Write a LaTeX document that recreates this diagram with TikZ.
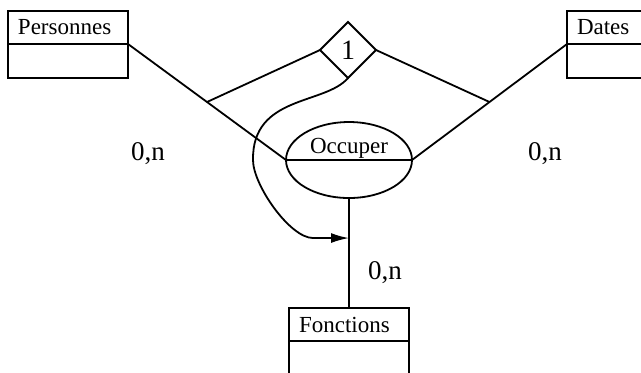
\documentclass[tikz,border=0pt]{standalone}
\usepackage{fontspec}
\setmainfont{Liberation Serif}
\usepackage{tikz}
\usetikzlibrary{shapes.geometric, arrows.meta, positioning}
\tikzset{
	enttop/.style ={rectangle, draw=black, line width=0.9pt, minimum width=60pt, minimum height=16.5pt, inner xsep=5pt, inner ysep=0pt, outer sep=0pt, text width=50pt, align=left, font=\fontsize{11.5}{13}\selectfont},
	entbot/.style ={rectangle, draw=black, line width=0.9pt, minimum width=60pt, minimum height=17pt, inner sep=0pt, outer sep=0pt},
	assoc/.style  ={ellipse, draw=black, line width=0.9pt, minimum width=63pt, minimum height=38pt, inner sep=0pt, outer sep=0pt},
	cif/.style    ={diamond, aspect=1, draw=black, line width=0.9pt, minimum width=28pt, minimum height=28pt, inner sep=0pt, outer sep=0pt, font=\fontsize{14}{16}\selectfont},
	card/.style   ={anchor=base, inner sep=0pt, font=\fontsize{13.5}{16}\selectfont},
	link/.style   ={line width=0.9pt},
	cifarrow/.style={-{Latex[length=9pt, width=5pt]}, line width=0.9pt},
}
\begin{document}
\begin{tikzpicture}[x=0.5pt, y=-0.5pt, node distance=0pt]
	\useasboundingbox (0,0) rectangle (641,372);
	\clip (0,0) rectangle (641,372);
	% entites
	\node[enttop, anchor=north west] (per) at (8,11) {Personnes};
	\node[entbot, below=of per] (perb) {};
	\node[enttop, anchor=north west] (dat) at (567,11) {Dates};
	\node[entbot, below=of dat] (datb) {};
	\node[enttop, anchor=north] (fon) at (349,308) {Fonctions};
	\node[entbot, below=of fon] (fonb) {};
	% association et contrainte
	\node[assoc] (occ) at (349,160) {};
	\draw[link] (occ.west) -- (occ.east);
	\node[anchor=base, yshift=3.5pt, inner sep=0pt, font=\fontsize{11.5}{13}\selectfont] (occlab) at (occ.center) {Occuper};
	\node[cif] (un) at (348,50) {1};
	% pattes
	\draw[link] (per.south east) -- coordinate[pos=0.5] (pj) (occ.west);
	\draw[link] (dat.south west) -- coordinate[pos=0.5] (dj) (occ.east);
	\draw[link] (occ.south) -- coordinate[pos=0.364] (fj) (fon.north);
	\draw[link] (un.west) -- (pj); \draw[link] (un.east) -- (dj);
	\draw[cifarrow] (un.south) .. controls (325,105) and (252,95) .. (253,160) .. controls (253,185) and (290,238) .. (313,238) -- (fj);
	% cardinalites
	\node[card] (cp) at (148,160) {0,n};
	\node[card] (cd) at (545,160) {0,n};
	\node[card] (cf) at (385,279) {0,n};
\end{tikzpicture}
\end{document}
